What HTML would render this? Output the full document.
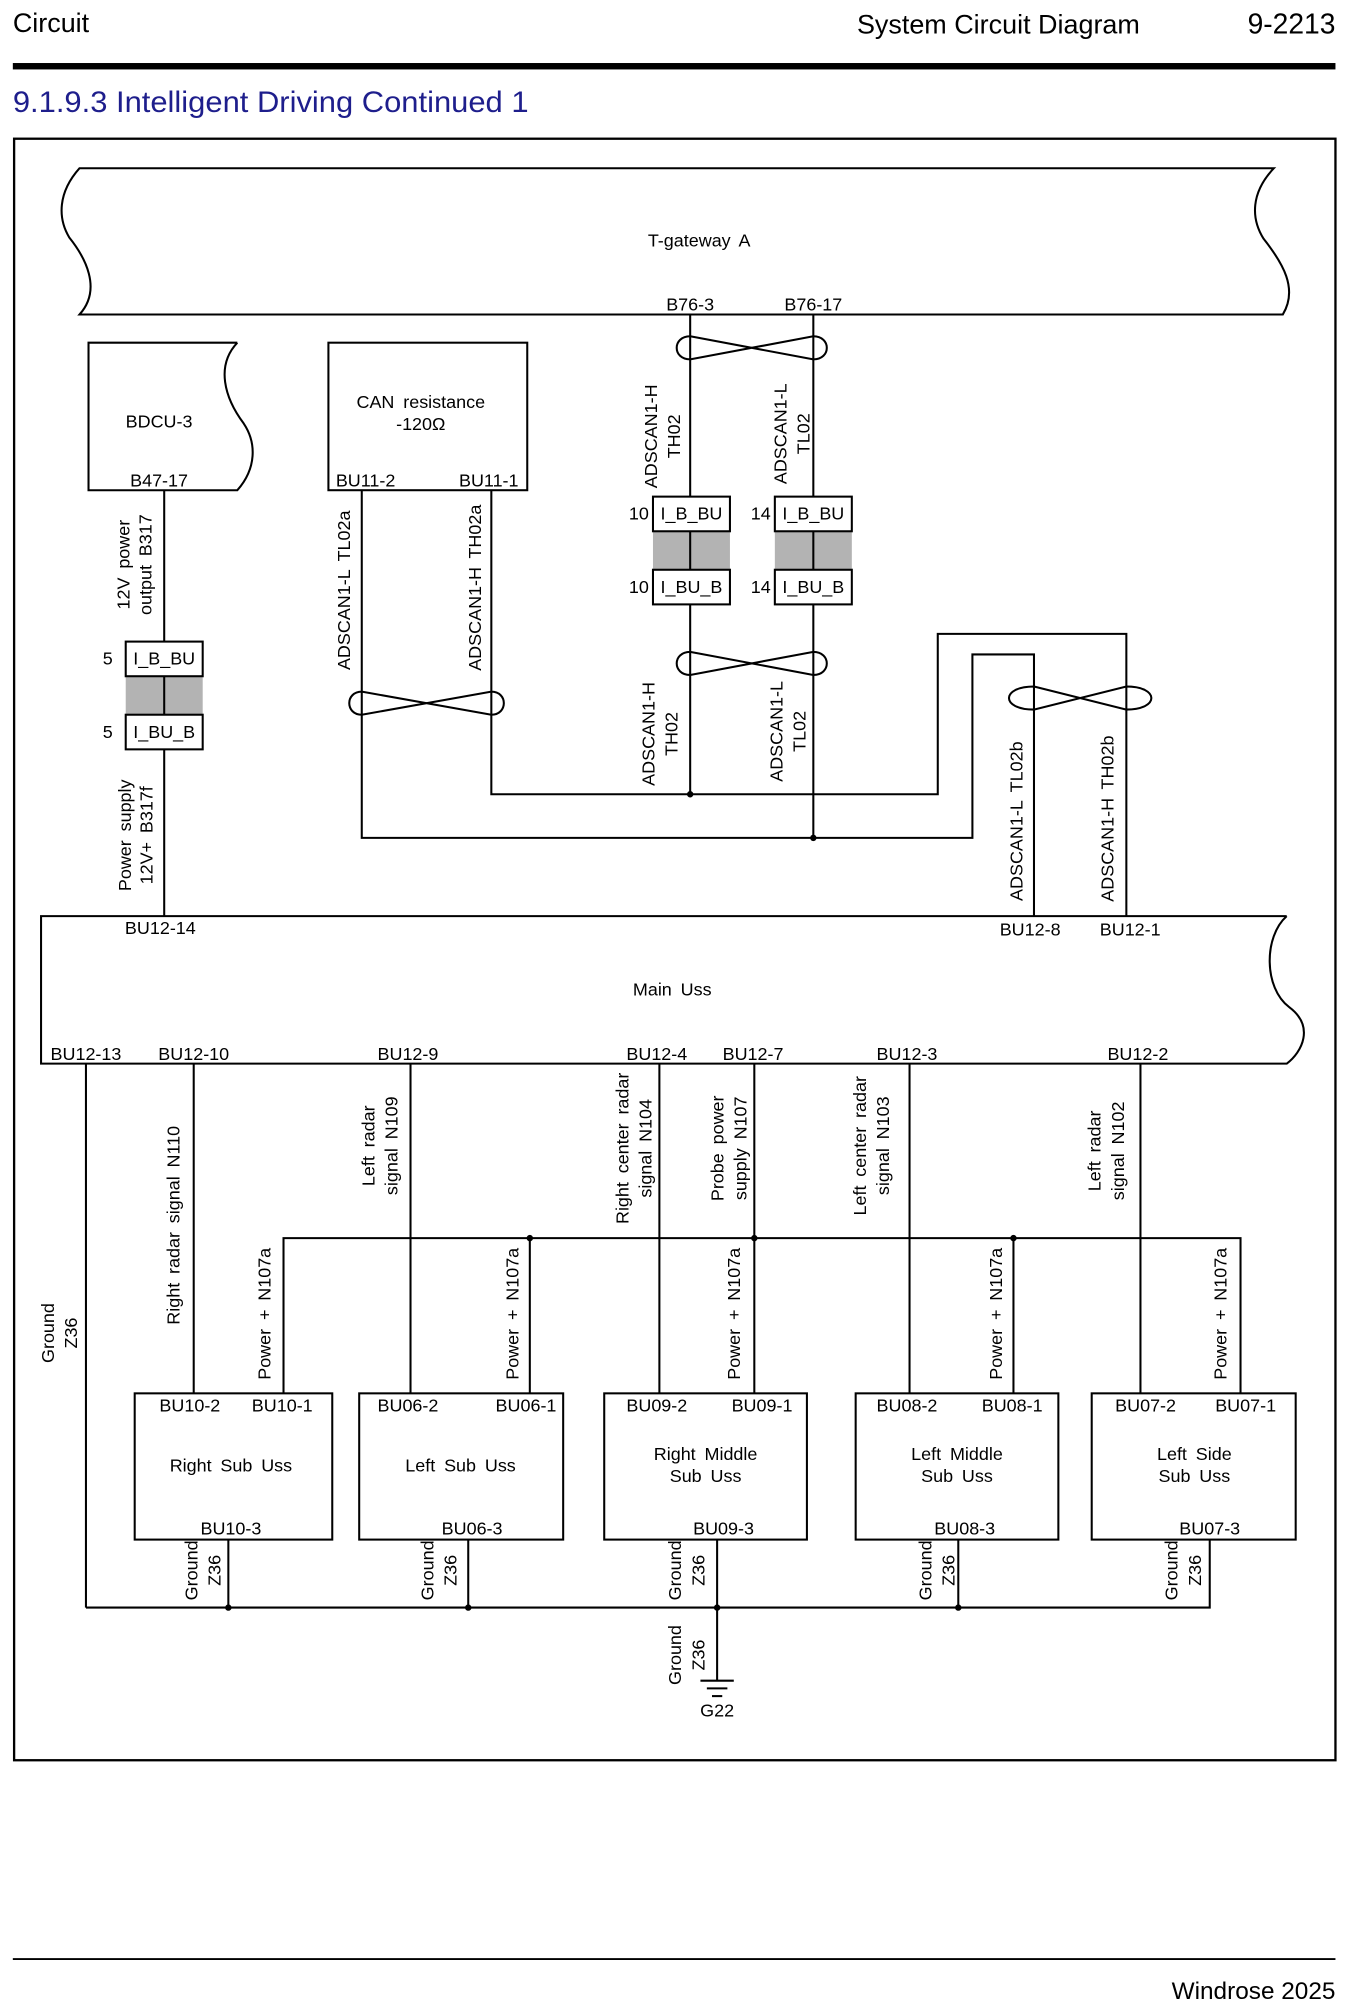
<!DOCTYPE html>
<html><head><meta charset="utf-8"><style>
html,body{margin:0;padding:0;background:#fff;width:1347px;height:2008px;overflow:hidden}
svg{display:block}
text{font-family:"Liberation Sans",Arial,sans-serif;fill:#000}
.t{font-size:14px;word-spacing:3px}
.h{font-family:"Liberation Sans Narrow","Liberation Sans",sans-serif}
</style></head><body>
<svg width="1347" height="2008" viewBox="0 0 1050 1565" xmlns="http://www.w3.org/2000/svg">
<g fill="none" stroke="#000" stroke-width="1.6">
<rect x="10" y="49" width="1031" height="5" fill="#000" stroke="none"/>
<line x1="10" y1="1527" x2="1041" y2="1527" stroke-width="1.5"/>
<rect x="11" y="108" width="1030" height="1264" stroke-width="1.8"/>
<path d="M62,131 L993,131 C975,150 975,170 985,186 C1000,205 1012,225 1000,245 L62,245 C80,225 66,200 54,185 C45,170 45,150 62,131 Z"/>
<path d="M185,267 L69,267 L69,382 L185,382 C200,365 200,345 190,330 C175,310 168,285 185,267"/>
<rect x="256" y="267" width="155" height="115"/>
<path d="M1003,714 L32,714 L32,829 L1003,829 C1015,820 1025,800 1005,785 C985,770 985,730 1003,714"/>
<line x1="538" y1="245" x2="538" y2="387"/><line x1="634" y1="245" x2="634" y2="387"/>
<line x1="538" y1="471" x2="538" y2="619"/><line x1="634" y1="471" x2="634" y2="653"/>
<rect x="509" y="414" width="60" height="30" fill="#b3b3b3" stroke="none"/>
<rect x="604" y="414" width="60" height="30" fill="#b3b3b3" stroke="none"/>
<rect x="98" y="527" width="60" height="30" fill="#b3b3b3" stroke="none"/>
<line x1="538" y1="414" x2="538" y2="444"/><line x1="634" y1="414" x2="634" y2="444"/><line x1="128" y1="527" x2="128" y2="557"/>
<rect x="509" y="387" width="60" height="27"/><rect x="509" y="444" width="60" height="27"/>
<rect x="604" y="387" width="60" height="27"/><rect x="604" y="444" width="60" height="27"/>
<rect x="98" y="500" width="60" height="27"/><rect x="98" y="557" width="60" height="27"/>
<path d="M538,262 L634,280 C648,280 648,262 634,262 L538,280 C524,280 524,262 538,262 Z"/>
<path d="M538,508 L634,526 C648,526 648,508 634,508 L538,526 C524,526 524,508 538,508 Z"/>
<path d="M282,539 L383,557 C396,557 396,539 383,539 L282,557 C269,557 269,539 282,539 Z"/>
<path d="M806,535 L878,553 C904,553 904,535 878,535 L806,553 C780,553 780,535 806,535 Z"/>
<polyline points="383,382 383,619 731,619 731,494 878,494 878,714"/>
<polyline points="282,382 282,653 758,653 758,510 806,510 806,714"/>
<line x1="128" y1="382" x2="128" y2="500"/><line x1="128" y1="584" x2="128" y2="714"/>
<line x1="67" y1="829" x2="67" y2="1253"/>
<line x1="151" y1="829" x2="151" y2="1086"/>
<line x1="320" y1="829" x2="320" y2="1086"/>
<line x1="514" y1="829" x2="514" y2="1086"/>
<line x1="588" y1="829" x2="588" y2="1086"/>
<line x1="709" y1="829" x2="709" y2="1086"/>
<line x1="889" y1="829" x2="889" y2="1086"/>
<polyline points="221,1086 221,965 967,965 967,1086"/>
<line x1="413" y1="965" x2="413" y2="1086"/>
<line x1="790" y1="965" x2="790" y2="1086"/>
<rect x="105" y="1086" width="154" height="114"/>
<rect x="280" y="1086" width="159" height="114"/>
<rect x="471" y="1086" width="158" height="114"/>
<rect x="667" y="1086" width="158" height="114"/>
<rect x="851" y="1086" width="159" height="114"/>
<line x1="178" y1="1200" x2="178" y2="1253"/><line x1="365" y1="1200" x2="365" y2="1253"/>
<line x1="559" y1="1200" x2="559" y2="1310"/><line x1="747" y1="1200" x2="747" y2="1253"/>
<polyline points="67,1253 943,1253 943,1200"/>
<line x1="546" y1="1310" x2="572" y2="1310"/><line x1="551" y1="1316" x2="567" y2="1316"/><line x1="555" y1="1322" x2="563" y2="1322"/>
</g>
<g fill="#000">
<circle cx="538" cy="619" r="2.5"/><circle cx="634" cy="653" r="2.5"/>
<circle cx="413" cy="965" r="2.5"/><circle cx="588" cy="965" r="2.5"/><circle cx="790" cy="965" r="2.5"/>
<circle cx="178" cy="1253" r="2.5"/><circle cx="365" cy="1253" r="2.5"/><circle cx="559" cy="1253" r="2.5"/><circle cx="747" cy="1253" r="2.5"/>
</g>
<text class="h" x="10" y="25" font-size="21">Circuit</text>
<text class="h" x="668" y="26" font-size="21">System Circuit Diagram</text>
<text class="h" x="1041" y="26" font-size="22" text-anchor="end">9-2213</text>
<text class="h" x="10" y="87" font-size="23" textLength="402" lengthAdjust="spacingAndGlyphs" style="fill:#1e1e8c">9.1.9.3 Intelligent Driving Continued 1</text>
<text class="h" x="1041" y="1558" font-size="19" text-anchor="end">Windrose  2025</text>
<g class="t" text-anchor="middle">
<text x="545" y="192">T-gateway  A</text>
<text x="538" y="242">B76-3</text><text x="634" y="242">B76-17</text>
<text x="124" y="333">BDCU-3</text><text x="124" y="379">B47-17</text>
<text x="328" y="318">CAN  resistance</text><text x="328" y="335">-120Ω</text>
<text x="285" y="379">BU11-2</text><text x="381" y="379">BU11-1</text>
<text x="539" y="405">I_B_BU</text><text x="539" y="462">I_BU_B</text>
<text x="634" y="405">I_B_BU</text><text x="634" y="462">I_BU_B</text>
<text x="128" y="518">I_B_BU</text><text x="128" y="575">I_BU_B</text>
<text x="498" y="405">10</text><text x="498" y="462">10</text>
<text x="593" y="405">14</text><text x="593" y="462">14</text>
<text x="84" y="518">5</text><text x="84" y="575">5</text>
<text x="125" y="728">BU12-14</text><text x="803" y="729">BU12-8</text><text x="881" y="729">BU12-1</text>
<text x="524" y="776">Main  Uss</text>
<text x="67" y="826">BU12-13</text><text x="151" y="826">BU12-10</text><text x="318" y="826">BU12-9</text>
<text x="512" y="826">BU12-4</text><text x="587" y="826">BU12-7</text><text x="707" y="826">BU12-3</text><text x="887" y="826">BU12-2</text>
<text x="148" y="1100">BU10-2</text><text x="220" y="1100">BU10-1</text><text x="180" y="1147">Right  Sub  Uss</text><text x="180" y="1196">BU10-3</text>
<text x="318" y="1100">BU06-2</text><text x="410" y="1100">BU06-1</text><text x="359" y="1147">Left  Sub  Uss</text><text x="368" y="1196">BU06-3</text>
<text x="512" y="1100">BU09-2</text><text x="594" y="1100">BU09-1</text><text x="550" y="1138">Right  Middle</text><text x="550" y="1155">Sub  Uss</text><text x="564" y="1196">BU09-3</text>
<text x="707" y="1100">BU08-2</text><text x="789" y="1100">BU08-1</text><text x="746" y="1138">Left  Middle</text><text x="746" y="1155">Sub  Uss</text><text x="752" y="1196">BU08-3</text>
<text x="893" y="1100">BU07-2</text><text x="971" y="1100">BU07-1</text><text x="931" y="1138">Left  Side</text><text x="931" y="1155">Sub  Uss</text><text x="943" y="1196">BU07-3</text>
<text x="559" y="1338">G22</text>
</g>
<g class="t" text-anchor="middle">
<text transform="translate(512,340) rotate(-90)">ADSCAN1-H</text><text transform="translate(530,340) rotate(-90)">TH02</text>
<text transform="translate(613,338) rotate(-90)">ADSCAN1-L</text><text transform="translate(631,338) rotate(-90)">TL02</text>
<text transform="translate(510,572) rotate(-90)">ADSCAN1-H</text><text transform="translate(528,572) rotate(-90)">TH02</text>
<text transform="translate(610,570) rotate(-90)">ADSCAN1-L</text><text transform="translate(628,570) rotate(-90)">TL02</text>
<text transform="translate(273,460) rotate(-90)">ADSCAN1-L  TL02a</text>
<text transform="translate(375,458) rotate(-90)">ADSCAN1-H  TH02a</text>
<text transform="translate(797,640) rotate(-90)">ADSCAN1-L  TL02b</text>
<text transform="translate(868,638) rotate(-90)">ADSCAN1-H  TH02b</text>
<text transform="translate(101,440) rotate(-90)">12V  power</text><text transform="translate(118,440) rotate(-90)">output  B317</text>
<text transform="translate(102,651) rotate(-90)">Power  supply</text><text transform="translate(119,651) rotate(-90)">12V+  B317f</text>
<text transform="translate(42,1039) rotate(-90)">Ground</text><text transform="translate(60,1039) rotate(-90)">Z36</text>
<text transform="translate(140,955) rotate(-90)">Right  radar  signal  N110</text>
<text transform="translate(292,893) rotate(-90)">Left  radar</text><text transform="translate(310,893) rotate(-90)">signal  N109</text>
<text transform="translate(490,895) rotate(-90)">Right  center  radar</text><text transform="translate(508,895) rotate(-90)">signal  N104</text>
<text transform="translate(564,895) rotate(-90)">Probe  power</text><text transform="translate(582,895) rotate(-90)">supply  N107</text>
<text transform="translate(675,893) rotate(-90)">Left  center  radar</text><text transform="translate(693,893) rotate(-90)">signal  N103</text>
<text transform="translate(858,897) rotate(-90)">Left  radar</text><text transform="translate(876,897) rotate(-90)">signal  N102</text>
<text transform="translate(211,1024) rotate(-90)">Power  +  N107a</text>
<text transform="translate(404,1024) rotate(-90)">Power  +  N107a</text>
<text transform="translate(577,1024) rotate(-90)">Power  +  N107a</text>
<text transform="translate(781,1024) rotate(-90)">Power  +  N107a</text>
<text transform="translate(956,1024) rotate(-90)">Power  +  N107a</text>
<text transform="translate(154,1224) rotate(-90)">Ground</text><text transform="translate(172,1224) rotate(-90)">Z36</text>
<text transform="translate(338,1224) rotate(-90)">Ground</text><text transform="translate(356,1224) rotate(-90)">Z36</text>
<text transform="translate(531,1224) rotate(-90)">Ground</text><text transform="translate(549,1224) rotate(-90)">Z36</text>
<text transform="translate(726,1224) rotate(-90)">Ground</text><text transform="translate(744,1224) rotate(-90)">Z36</text>
<text transform="translate(918,1224) rotate(-90)">Ground</text><text transform="translate(936,1224) rotate(-90)">Z36</text>
<text transform="translate(531,1290) rotate(-90)">Ground</text><text transform="translate(549,1290) rotate(-90)">Z36</text>
</g>
</svg>
</body></html>
